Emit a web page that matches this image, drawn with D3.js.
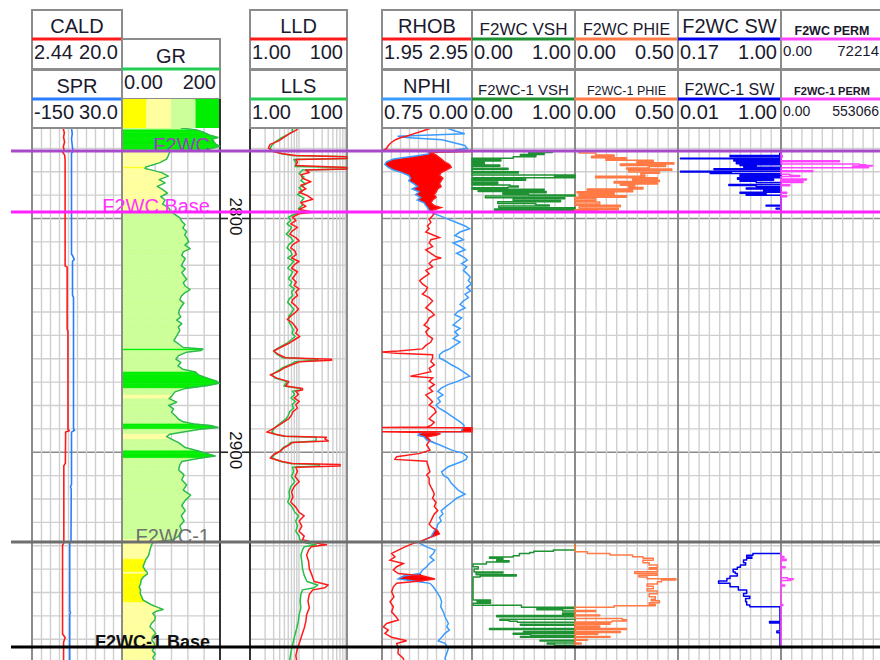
<!DOCTYPE html>
<html>
<head>
<meta charset="utf-8">
<title>Well log – F2WC / F2WC-1</title>
<script src="https://cdn.jsdelivr.net/npm/d3@7/dist/d3.min.js"></script>
<style>
  html, body { margin: 0; padding: 0; background: #fff; }
  svg { display: block; font-family: Arial, "Liberation Sans", sans-serif; }
</style>
</head>
<body>
<svg id="chart" width="880" height="660"></svg>
<script>
// ---------------- header labels (curve names and scale ends) ----------------
const curveTitles = ["CALD", "SPR", "GR", "LLD", "LLS", "RHOB", "NPHI",
  "F2WC VSH", "F2WC-1 VSH", "F2WC PHIE", "F2WC-1 PHIE", "F2WC SW", "F2WC-1 SW", "F2WC PERM", "F2WC-1 PERM"];
const scaleLo = ["2.44", "-150", "0.00", "1.00", "1.00", "1.95", "0.75",
  "0.00", "0.00", "0.00", "0.00", "0.17", "0.01", "0.00", "0.00"];
const scaleHi = ["20.0", "30.0", "200", "100", "100", "2.95", "0.00",
  "1.00", "1.00", "0.50", "0.50", "1.00", "1.00", "72214", "553066"];

// GR colour classes (upper bounds of the first three classes)
const grCutoffs = [50, 100, 150];

// formation tops
const topNames = ["F2WC", "F2WC Base", "F2WC-1", "F2WC-1 Base"];
const topDepths = [2771.3, 2797.4, 2938.6, 2983.5];

// depth annotations
const depthLabels = [2800, 2900];

// ---------------- log curves: [depth m, value] ----------------
const caldData = [[2761.5,8.5],[2763.5,8.75],[2765.5,8.6],[2767.5,8.8],[2769.5,8.55],[2771.0,8.7],[2772.0,8.45],[2773.0,8.8],[2775.0,8.9],[2820.5,8.9],[2821.0,9.3],[2847.5,9.3],[2848.5,9.45],[2890.5,9.46],[2891.0,9.7],[2891.6,9.0],[2905.0,8.95],[2906.0,8.65],[2939.0,8.65],[2940.0,8.4],[2978.0,8.4],[2979.5,8.9],[2981.5,8.6],[2989.1,8.6]];

const sprData = [[2761.5,-71],[2764.0,-69.5],[2766.0,-71],[2768.0,-70],[2770.0,-69],[2771.3,-67.5],[2772.3,-71],[2815.5,-71],[2816.0,-69],[2817.8,-65.5],[2818.5,-69],[2833.0,-69],[2834.0,-67],[2890.0,-67],[2890.8,-65],[2891.6,-71],[2914.0,-71],[2915.0,-73],[2916.0,-71.5],[2938.0,-72],[2939.5,-74.5],[2968.0,-74.5],[2968.8,-73],[2969.6,-74.5],[2989.1,-74.5]];

const grData = [[2761.5,120],[2762.3,152],[2763.3,166],[2764.5,178],[2765.6,196],[2766.3,184],[2767.5,188],[2768.5,192],[2769.3,199],[2770.1,186],[2770.9,172],[2771.5,98],[2773.3,94.5],[2774.8,91],[2776.3,77.5],[2777.4,60.5],[2778.3,48],[2778.8,47],[2779.3,57],[2780.6,81],[2782.1,94.5],[2783.6,76],[2785.0,88],[2786.5,72],[2788.0,84],[2789.4,92.5],[2790.9,79],[2792.3,88],[2794.1,83],[2795.5,94.5],[2797.0,99],[2798.5,108],[2799.9,118],[2801.4,122],[2802.8,128.5],[2804.3,124],[2805.8,132],[2807.2,128],[2808.7,133],[2810.1,136],[2811.6,128.5],[2813.1,139],[2814.5,125],[2816.0,122],[2817.4,129],[2818.9,125],[2820.4,121],[2821.8,129],[2823.3,122],[2824.7,126.5],[2826.2,132],[2827.7,125],[2829.1,129],[2830.6,139],[2832.0,128],[2833.5,121],[2835.0,118],[2836.4,126.5],[2837.9,121],[2839.3,117],[2840.8,115.5],[2842.3,120],[2843.7,111.5],[2845.2,122],[2846.6,115],[2848.1,118],[2849.6,114],[2851.0,110],[2852.5,106],[2853.9,115.5],[2855.4,125],[2856.1,165],[2856.7,161],[2857.4,132],[2858.9,115.5],[2860.4,110],[2861.8,120],[2863.3,114],[2864.7,124],[2865.9,150],[2867.1,156],[2868.5,174],[2869.7,192],[2870.7,198.5],[2871.7,175],[2872.9,130],[2874.4,108],[2875.8,103],[2877.3,96],[2878.8,111.5],[2880.2,95],[2881.7,105],[2883.1,101],[2884.6,109],[2886.1,115.5],[2887.2,125],[2888.1,147],[2888.8,181],[2889.6,196],[2890.4,159],[2891.6,125],[2892.5,98],[2893.5,91],[2894.7,102],[2896.1,115.5],[2898.2,129],[2899.6,154],[2900.8,174],[2901.8,190],[2902.8,158],[2904.2,122],[2905.6,118],[2907.7,115.5],[2909.9,126.5],[2912.0,122],[2914.2,132],[2916.4,125],[2918.6,140],[2920.8,129],[2923.0,122],[2925.2,129],[2927.4,121],[2929.6,126.5],[2931.8,118],[2934.0,122],[2936.1,115.5],[2937.6,105],[2938.6,64],[2940.0,60],[2942.1,57],[2944.5,54],[2946.0,49],[2947.5,46],[2949.2,43],[2950.6,47],[2951.5,51],[2952.3,52],[2953.5,44],[2954.9,39],[2956.5,38],[2957.8,35],[2959.2,38],[2960.6,37],[2962.0,40],[2963.5,43],[2964.5,52],[2965.6,61],[2966.5,72],[2967.5,84],[2968.2,70],[2969.2,63],[2970.6,68],[2972.0,67],[2973.5,60],[2974.9,57],[2976.3,64],[2977.7,69],[2979.2,62],[2980.6,61],[2982.0,66],[2983.4,67],[2985.0,62],[2986.5,68],[2988.0,63],[2989.1,66]];

const lldData = [[2761.5,10],[2762.5,8.8],[2764.0,6.4],[2765.5,5],[2767.0,3.9],[2768.5,2.6],[2770.0,2.4],[2771.5,2.9],[2772.5,4.6],[2773.3,8.8],[2773.8,100],[2774.6,100],[2775.0,8.8],[2776.0,9.5],[2777.5,8.8],[2778.4,100],[2779.0,100],[2779.5,14],[2780.5,16.7],[2781.5,11.2],[2783.0,12.1],[2784.5,18],[2786.0,11.2],[2787.5,14.2],[2789.0,10.3],[2790.5,15.5],[2792.0,19.7],[2793.5,11.2],[2795.0,14.2],[2796.3,10.3],[2797.5,19.7],[2798.2,10.3],[2799.6,7.5],[2801.1,8.8],[2802.5,6.9],[2804.0,9.5],[2805.5,7.5],[2806.9,6.6],[2808.4,8.8],[2809.8,10.3],[2811.3,7.7],[2812.8,6.9],[2814.2,8.5],[2815.7,9],[2817.1,7.2],[2818.6,10.3],[2820.1,8.1],[2821.5,7.2],[2823.0,9.5],[2824.4,8.5],[2825.9,7.5],[2827.4,9],[2828.8,8.1],[2830.3,10.3],[2831.7,8.8],[2833.2,9.5],[2834.7,7.7],[2836.1,7.2],[2837.6,8.8],[2839.0,10],[2840.5,8.5],[2842.0,6.9],[2843.4,5.85],[2844.9,7.5],[2846.3,8.5],[2847.8,9.5],[2849.3,8.8],[2850.7,10.6],[2852.2,8.1],[2853.6,6.35],[2855.4,4.24],[2856.9,3.07],[2858.3,3.8],[2859.8,5.4],[2860.4,48],[2860.9,48],[2861.5,10.3],[2862.7,7.5],[2864.2,5],[2865.6,3.9],[2867.1,2.61],[2868.5,3.6],[2870.0,6.35],[2871.9,5.4],[2872.9,12.1],[2873.6,12.1],[2874.1,8.8],[2875.5,10],[2877.0,8.1],[2878.5,10.3],[2879.9,8.8],[2881.4,9.5],[2882.8,7.7],[2884.3,7.2],[2885.8,6.35],[2887.2,5],[2888.7,3.9],[2890.4,2.83],[2891.6,2.22],[2892.5,3.33],[2893.4,5.4],[2893.8,37.7],[2894.5,35],[2895.4,41],[2896.0,7.5],[2897.2,6.35],[2898.3,5],[2899.8,4.24],[2901.2,3.07],[2902.7,2.61],[2904.2,4.59],[2905.0,7.5],[2905.5,72],[2906.1,72],[2906.6,8.8],[2908.4,9.5],[2910.6,8.5],[2912.8,10.3],[2915.0,8.1],[2917.2,7.2],[2919.3,7.7],[2921.5,6.9],[2923.7,8.8],[2925.9,10.3],[2927.4,13.1],[2929.6,10.3],[2931.8,11.7],[2934.0,10.3],[2936.1,13.1],[2937.6,12.1],[2939.1,23],[2939.8,37.7],[2940.7,18.2],[2942.0,16.2],[2944.2,14.7],[2947.1,16.2],[2950.0,16.7],[2952.9,19],[2955.5,21],[2957.0,41],[2958.2,35],[2959.1,19.7],[2961.0,16.7],[2963.9,15.7],[2966.8,16.7],[2969.7,14.7],[2972.6,14.2],[2975.5,13.1],[2978.5,11.7],[2981.4,10.6],[2984.3,9.5],[2987.2,8.8],[2989.1,9.1]];

const llsData = [[2761.5,7.5],[2763.0,7.5],[2764.5,5.8],[2766.0,4.2],[2767.5,3.3],[2769.0,2.8],[2770.5,2.6],[2771.5,3.1],[2772.5,4.6],[2773.3,7.5],[2773.8,100],[2774.6,100],[2775.0,8],[2776.5,9],[2778.0,8.5],[2778.4,100],[2779.0,100],[2779.5,12],[2781.0,10.3],[2782.5,13],[2784.0,11.2],[2785.5,14.2],[2787.0,10.3],[2788.5,12.1],[2790.0,9.5],[2791.5,13],[2793.0,11.2],[2794.5,12.1],[2796.0,10],[2797.5,12],[2798.5,8],[2799.6,6.2],[2801.1,6.9],[2802.5,5.8],[2804.0,7.2],[2805.5,6.5],[2806.9,5.6],[2808.4,7],[2809.8,7.8],[2811.3,6.4],[2812.8,5.8],[2814.2,6.9],[2815.7,7.4],[2817.1,6],[2818.6,8],[2820.1,6.8],[2821.5,6],[2823.0,7.6],[2824.4,7],[2825.9,6.2],[2827.4,7.3],[2828.8,6.6],[2830.3,8.2],[2831.7,7.2],[2833.2,7.6],[2834.7,6.4],[2836.1,6],[2837.6,7],[2839.0,8],[2840.5,7.2],[2842.0,6.3],[2843.4,6.3],[2844.9,6.5],[2846.3,7.2],[2847.8,7.8],[2849.3,7.4],[2850.7,8.5],[2852.2,7],[2853.6,5.8],[2855.4,4],[2856.9,3.07],[2858.3,3.6],[2859.8,4.8],[2860.4,25],[2860.9,25],[2861.5,8.5],[2862.7,6.8],[2864.2,4.6],[2865.6,3.6],[2867.1,2.83],[2868.5,3.3],[2870.0,5.8],[2871.9,5],[2872.9,11],[2873.6,11],[2874.1,7.5],[2875.5,8.3],[2877.0,7],[2878.5,8.6],[2879.9,7.4],[2881.4,7.9],[2882.8,6.6],[2884.3,6.2],[2885.8,5.6],[2887.2,4.6],[2888.7,3.7],[2890.4,3.07],[2891.6,2.8],[2892.5,3.3],[2893.4,5],[2893.8,23],[2895.4,23],[2896.0,7],[2897.2,6],[2898.3,4.8],[2899.8,4.1],[2901.2,3.2],[2902.7,2.83],[2904.2,4.3],[2905.0,6.8],[2905.5,27],[2906.1,27],[2906.6,7.5],[2908.4,7.9],[2910.6,7.2],[2912.8,8.4],[2915.0,6.9],[2917.2,6.4],[2919.3,6.6],[2921.5,6],[2923.7,7.4],[2925.9,8.4],[2927.4,10],[2929.6,8.8],[2931.8,9.5],[2934.0,8.8],[2936.1,10.3],[2937.6,10.6],[2939.1,14.2],[2939.8,23],[2940.7,13],[2942.0,12.1],[2944.2,11.2],[2947.1,11.7],[2950.0,12.1],[2952.9,13.1],[2955.5,15],[2957.0,25],[2958.2,21],[2959.1,12.1],[2961.0,11.2],[2963.9,10.8],[2966.8,11.2],[2969.7,10.3],[2972.6,9.9],[2975.5,9.2],[2978.5,8.4],[2981.4,7.8],[2984.3,7.2],[2987.2,6.8],[2989.1,6.6]];

// density / neutron share one depth column
const dnDepth = [2761.5,2762.8,2764.0,2765.0,2765.6,2766.5,2767.8,2769.0,2770.2,2770.9,2771.1,2771.6,2771.9,2772.6,2773.6,2774.8,2776.0,2777.1,2778.3,2779.5,2780.6,2781.8,2783.0,2784.1,2785.3,2786.5,2787.6,2788.8,2790.0,2791.2,2792.3,2793.5,2794.7,2795.5,2796.7,2797.9,2799.0,2800.5,2801.9,2803.4,2804.6,2806.0,2807.5,2808.4,2809.3,2810.7,2812.2,2813.6,2815.1,2816.6,2817.1,2818.0,2819.5,2820.9,2822.4,2823.9,2825.3,2826.8,2828.2,2829.7,2831.2,2832.6,2834.1,2835.5,2837.0,2838.5,2839.9,2841.4,2842.8,2844.3,2845.8,2847.2,2848.7,2850.1,2851.6,2853.1,2854.5,2856.0,2856.9,2857.3,2857.9,2858.5,2859.9,2861.4,2862.8,2864.3,2865.8,2866.9,2867.7,2868.4,2869.8,2871.3,2872.8,2874.2,2875.7,2877.1,2878.6,2880.1,2881.5,2883.0,2884.4,2885.9,2887.4,2888.8,2889.4,2889.6,2889.7,2891.4,2891.5,2891.8,2892.3,2893.0,2893.6,2895.0,2897.1,2899.3,2900.7,2902.1,2903.3,2904.1,2906.4,2908.6,2910.0,2911.3,2913.5,2915.0,2916.4,2918.2,2919.9,2921.7,2923.4,2925.2,2926.6,2928.1,2929.6,2931.0,2932.5,2933.9,2935.1,2936.3,2937.4,2938.6,2939.2,2940.7,2942.1,2943.5,2945.0,2946.4,2947.8,2949.2,2950.6,2952.1,2953.2,2954.4,2955.3,2956.3,2957.8,2959.9,2962.1,2964.2,2966.3,2968.5,2970.6,2972.0,2973.5,2974.9,2976.3,2977.7,2979.4,2980.9,2982.0,2984.1,2986.3,2988.4,2989.1];
const rhobValues = [2.50,2.40,2.30,2.22,2.16,2.10,2.05,2.02,2.00,1.97,2.95,2.95,2.48,2.53,2.57,2.61,2.645,2.70,2.72,2.664,2.607,2.588,2.626,2.607,2.588,2.607,2.569,2.55,2.531,2.55,2.512,2.493,2.531,2.607,2.512,2.531,2.512,2.474,2.493,2.455,2.474,2.437,2.531,2.588,2.493,2.474,2.512,2.437,2.493,2.55,2.607,2.512,2.474,2.512,2.437,2.474,2.418,2.368,2.399,2.455,2.437,2.399,2.474,2.512,2.474,2.437,2.493,2.531,2.474,2.455,2.418,2.474,2.437,2.455,2.512,2.493,2.437,2.399,2.133,1.95,2.114,2.512,2.512,2.493,2.531,2.474,2.493,2.36,2.266,2.512,2.474,2.531,2.474,2.512,2.437,2.474,2.512,2.474,2.531,2.55,2.512,2.474,2.531,2.493,2.45,1.95,2.95,2.95,1.95,2.42,2.60,2.55,2.45,2.483,2.447,2.483,2.372,2.113,2.094,2.447,2.465,2.483,2.447,2.474,2.474,2.493,2.512,2.531,2.512,2.55,2.531,2.569,2.531,2.512,2.493,2.474,2.512,2.569,2.588,2.512,2.437,2.36,2.298,2.206,2.131,2.057,2.094,2.039,2.187,2.113,2.076,2.131,2.409,2.539,2.372,2.113,2.076,2.057,2.083,2.039,2.076,2.057,2.106,2.131,2.002,1.965,2.02,1.983,2.057,2.224,2.113,2.131,2.128,2.187,2.19];
const nphiValues = [0.21,0.14,0.06,0.62,0.55,0.25,0.15,0.06,0.04,0.14,0.14,0.12,0.36,0.36,0.485,0.655,0.712,0.726,0.698,0.655,0.584,0.527,0.513,0.527,0.485,0.456,0.499,0.442,0.47,0.428,0.456,0.399,0.385,0.371,0.357,0.328,0.271,0.200,0.129,0.058,0.02,0.10,0.143,0.10,0.072,0.157,0.10,0.058,0.129,0.072,0.058,0.04,0.086,0.044,0.072,0.04,0.015,0.03,0.005,0.044,0.012,0.058,0.03,0.072,0.10,0.058,0.115,0.143,0.086,0.122,0.157,0.10,0.143,0.115,0.157,0.10,0.143,0.186,0.228,0.243,0.257,0.271,0.271,0.214,0.172,0.115,0.072,0.04,0.02,0.058,0.115,0.20,0.257,0.285,0.243,0.285,0.264,0.30,0.271,0.22,0.18,0.136,0.093,0.066,0.07,0.07,0.075,0.09,0.22,0.42,0.44,0.45,0.40,0.377,0.267,0.169,0.072,0.039,0.05,0.08,0.197,0.253,0.24,0.20,0.172,0.143,0.115,0.058,0.129,0.172,0.214,0.257,0.243,0.271,0.257,0.285,0.293,0.314,0.328,0.342,0.385,0.428,0.433,0.378,0.308,0.322,0.35,0.317,0.356,0.378,0.411,0.433,0.572,0.614,0.489,0.35,0.322,0.295,0.267,0.253,0.261,0.239,0.225,0.211,0.197,0.211,0.189,0.225,0.253,0.281,0.225,0.197,0.211,0.225,0.22];

// ---------------- interpretation results (stepped) ----------------
const vshF2wc = [[2771.6,0.78],[2772.0,0.55],[2772.4,0.70],[2772.8,0.47],[2773.3,0.62],[2773.8,0.40],[2774.4,0.0],[2775.0,0.28],[2775.6,0.0],[2776.3,0.12],[2776.9,0.0],[2777.3,0.27],[2777.9,0.0],[2778.7,0.35],[2779.3,0.0],[2780.2,0.45],[2780.8,0.0],[2781.6,1.0],[2782.0,0.80],[2782.4,1.0],[2782.8,0.0],[2783.3,0.52],[2783.8,0.0],[2784.6,0.25],[2785.2,0.0],[2785.9,0.37],[2786.3,0.45],[2786.7,0.35],[2787.1,0.0],[2787.7,0.70],[2788.2,0.06],[2788.7,0.72],[2789.2,0.30],[2789.8,0.55],[2790.2,1.0],[2790.6,0.13],[2791.3,0.90],[2791.8,0.40],[2792.5,0.86],[2793.0,0.25],[2793.8,0.62],[2794.4,0.75],[2794.9,0.26],[2795.6,1.0],[2796.2,0.22],[2796.8,1.0],[2797.4,1.0]];
const phieF2wc = [[2771.6,0.02],[2772.2,0.10],[2773.0,0.19],[2773.6,0.08],[2774.2,0.25],[2774.8,0.15],[2775.3,0.38],[2775.9,0.30],[2776.4,0.48],[2776.9,0.22],[2777.5,0.44],[2778.0,0.36],[2778.6,0.25],[2779.0,0.47],[2779.6,0.26],[2780.3,0.41],[2780.9,0.32],[2781.6,0.34],[2782.1,0.10],[2782.8,0.40],[2783.3,0.28],[2783.9,0.41],[2784.4,0.19],[2785.0,0.40],[2785.5,0.22],[2786.0,0.29],[2786.5,0.26],[2787.0,0.33],[2787.6,0.06],[2788.2,0.28],[2788.8,0.01],[2789.3,0.19],[2789.9,0.02],[2790.5,0.25],[2791.1,0.0],[2791.8,0.10],[2792.5,0.0],[2793.2,0.12],[2794.0,0.0],[2794.6,0.22],[2795.2,0.02],[2795.9,0.21],[2796.5,0.0],[2797.0,0.11],[2797.4,0.0]];
const swF2wc = [[2771.6,1.0],[2772.3,0.99],[2773.3,0.59],[2773.7,0.99],[2774.4,0.19],[2774.7,1.0],[2775.2,0.62],[2775.6,1.0],[2776.3,0.64],[2776.8,1.0],[2777.2,0.67],[2777.5,0.80],[2777.9,0.70],[2778.3,1.0],[2778.9,0.46],[2779.3,1.0],[2780.0,0.19],[2780.3,0.60],[2780.6,0.43],[2781.0,1.0],[2781.6,0.67],[2782.2,1.0],[2782.8,0.65],[2783.4,0.94],[2783.9,0.67],[2784.3,0.80],[2784.8,1.0],[2785.7,0.58],[2786.1,0.80],[2786.5,1.0],[2787.2,0.72],[2787.6,1.0],[2788.1,0.86],[2788.6,1.0],[2789.0,0.67],[2789.4,0.88],[2789.8,0.72],[2790.3,1.0],[2794.5,0.88],[2794.9,1.0],[2795.8,0.96],[2796.2,1.0],[2797.4,1.0]];
const permF2wc = [[2771.6,0],[2773.3,900],[2774.0,0],[2775.5,41400],[2775.9,0],[2776.9,55400],[2777.2,60000],[2777.5,64700],[2777.8,50700],[2778.2,62000],[2778.5,0],[2779.8,22600],[2780.1,0],[2781.3,6300],[2781.8,13300],[2782.3,0],[2783.3,18000],[2783.7,0],[2784.4,15600],[2784.8,0],[2785.8,6300],[2786.2,0],[2789.0,4000],[2789.4,0],[2790.5,4000],[2790.9,0],[2797.4,0]];

const vshF2wc1 = [[2938.8,1.0],[2941.7,1.0],[2942.0,0.79],[2942.6,0.60],[2943.1,0.56],[2943.5,0.46],[2944.5,0.40],[2945.0,0.17],[2945.6,0.30],[2946.2,0.24],[2946.6,0.36],[2947.2,0.14],[2948.0,0.01],[2949.2,0.06],[2950.2,0.02],[2951.4,0.30],[2951.9,0.04],[2952.6,0.43],[2953.2,0.08],[2953.6,0.01],[2963.4,0.18],[2963.9,0.05],[2964.3,0.18],[2964.8,0.01],[2965.7,0.48],[2966.5,1.0],[2967.1,0.63],[2967.6,0.88],[2968.1,1.0],[2969.0,0.88],[2969.5,1.0],[2970.1,0.24],[2970.6,1.0],[2971.7,0.27],[2972.1,0.36],[2972.5,0.44],[2972.9,1.0],[2973.8,0.47],[2974.2,1.0],[2975.6,0.17],[2976.0,1.0],[2976.9,0.50],[2977.3,1.0],[2977.7,0.40],[2978.1,0.57],[2978.5,1.0],[2979.0,0.47],[2979.4,1.0],[2980.6,0.66],[2981.0,1.0],[2981.8,0.73],[2982.3,0.80],[2982.8,1.0],[2983.5,1.0]];
const phieF2wc1 = [[2938.8,0.0],[2942.8,0.06],[2943.5,0.17],[2944.2,0.28],[2944.9,0.33],[2945.6,0.38],[2946.4,0.33],[2947.5,0.36],[2948.5,0.40],[2949.6,0.36],[2950.3,0.40],[2951.3,0.29],[2952.1,0.40],[2952.8,0.31],[2953.6,0.35],[2954.3,0.49],[2954.9,0.42],[2955.6,0.40],[2956.6,0.35],[2957.5,0.38],[2958.6,0.35],[2959.6,0.40],[2960.8,0.36],[2962.0,0.39],[2963.1,0.37],[2963.8,0.41],[2964.6,0.36],[2965.4,0.39],[2965.9,0.19],[2966.5,0.0],[2967.9,0.10],[2968.4,0.0],[2969.8,0.12],[2970.2,0.0],[2971.3,0.23],[2971.9,0.25],[2972.4,0.18],[2972.8,0.0],[2973.4,0.17],[2973.8,0.0],[2974.6,0.12],[2975.0,0.0],[2975.6,0.25],[2976.0,0.0],[2976.9,0.22],[2977.3,0.0],[2977.7,0.11],[2978.1,0.0],[2979.0,0.17],[2979.4,0.0],[2980.3,0.06],[2980.6,0.0],[2981.8,0.03],[2982.3,0.0],[2983.5,0.0]];
const swF2wc1 = [[2943.4,0.99],[2943.5,0.73],[2944.3,0.67],[2945.0,0.72],[2945.6,0.67],[2946.3,0.64],[2947.5,0.66],[2948.5,0.61],[2949.4,0.58],[2950.3,0.54],[2951.4,0.56],[2952.1,0.58],[2953.2,0.51],[2954.2,0.48],[2955.3,0.40],[2956.3,0.51],[2957.8,0.59],[2959.2,0.67],[2960.6,0.64],[2961.8,0.70],[2962.8,0.66],[2964.2,0.67],[2965.6,0.70],[2966.3,0.99],[2972.6,0.89],[2973.3,0.99],[2976.7,0.96],[2977.4,0.99],[2983.5,0.99]];
const permF2wc1 = [[2942.8,0],[2944.8,16000],[2945.3,0],[2946.0,28000],[2946.5,0],[2949.2,22000],[2949.6,0],[2953.9,35000],[2954.3,66000],[2954.7,52000],[2955.1,0],[2957.0,20000],[2957.4,0],[2965.4,10000],[2965.8,0],[2983.5,0]];

// ---------------- layout ----------------
const svg = d3.select("#chart");
const plotTop = 128, plotBottom = 660;
const y = d3.scaleLinear().domain([2761.5, 2989.1]).range([plotTop, plotBottom]);

const track = {
  t1: [32, 122], gr: [122, 220], dep: [220, 250], res: [250, 347],
  dn: [382, 472], vsh: [472, 575], phie: [575, 678], sw: [678, 781], perm: [781, 883]
};
const num = i => [parseFloat(scaleLo[i]), parseFloat(scaleHi[i])];

const xCald = d3.scaleLinear().domain(num(0)).range(track.t1);
const xSpr = d3.scaleLinear().domain(num(1)).range(track.t1);
const xGr = d3.scaleLinear().domain(num(2)).range(track.gr);
const xLld = d3.scaleLog().domain(num(3)).range(track.res).clamp(true);
const xLls = d3.scaleLog().domain(num(4)).range(track.res).clamp(true);
const xRhob = d3.scaleLinear().domain(num(5)).range(track.dn);
const xNphi = d3.scaleLinear().domain(num(6)).range(track.dn);
const xVsh1 = d3.scaleLinear().domain(num(7)).range(track.vsh);
const xVsh2 = d3.scaleLinear().domain(num(8)).range(track.vsh);
const xPhie1 = d3.scaleLinear().domain(num(9)).range(track.phie);
const xPhie2 = d3.scaleLinear().domain(num(10)).range(track.phie);
const xSw1 = d3.scaleLinear().domain(num(11)).range(track.sw);
const xSw2 = d3.scaleLinear().domain(num(12)).range(track.sw);
const xPerm1 = d3.scaleLinear().domain(num(13)).range(track.perm);
const xPerm2 = d3.scaleLinear().domain(num(14)).range(track.perm);

const grColor = d3.scaleThreshold().domain(grCutoffs)
  .range(["#ffff00", "#ffffa0", "#ccff99", "#00ee00"]);

const gGrid = svg.append("g");
const gFill = svg.append("g");
const gBorder = svg.append("g");
const gCurve = svg.append("g");
const gTops = svg.append("g");
const gHead = svg.append("g");

// ---------------- grids ----------------
const gridDepths = d3.range(2770, 2990, 10);
const minor = "#cfcfcf", major = "#8a8a8a";

function drawGrid(x0, x1, scale, vals) {
  const g = gGrid.append("g");
  g.append("g").attr("transform", `translate(${x0},0)`)
    .call(d3.axisLeft(y).tickValues(gridDepths).tickSize(-(x1 - x0)).tickFormat(""))
    .call(s => s.select(".domain").remove())
    .call(s => s.selectAll(".tick line")
      .attr("stroke", d => d % 100 === 0 ? major : minor)
      .attr("stroke-width", d => d % 100 === 0 ? 1.6 : 1.4));
  g.append("g").attr("transform", `translate(0,${plotTop - 3})`)
    .call(d3.axisBottom(scale).tickValues(vals).tickSize(plotBottom - plotTop + 3).tickFormat(""))
    .call(s => s.select(".domain").remove())
    .call(s => s.selectAll(".tick line").attr("stroke", minor).attr("stroke-width", 1.4));
}
const tenths = (s, n) => { const [a, b] = s.domain(); return d3.range(1, n).map(i => a + (b - a) * i / n); };

drawGrid(...track.t1, xCald, tenths(xCald, 10));
drawGrid(...track.gr, xGr, tenths(xGr, 6));
drawGrid(...track.res, xLld, [2,3,4,5,6,7,8,9,10,20,30,40,50,60,70,80,90]);
drawGrid(...track.dn, xRhob, tenths(xRhob, 10));
drawGrid(...track.vsh, xVsh1, tenths(xVsh1, 10));
drawGrid(...track.phie, xPhie1, tenths(xPhie1, 10));
drawGrid(...track.sw, xSw2, tenths(xSw2, 10));
drawGrid(...track.perm, xPerm1, tenths(xPerm1, 10));

// ---------------- GR colour fill (left edge to curve, coloured by class) ----------------
const segArea = d3.area().y(d => y(d[0])).x0(track.gr[0]).x1(d => xGr(d[1]));
d3.pairs(grData).forEach(([a, b]) => {
  const c = grColor((a[1] + b[1]) / 2);
  gFill.append("path").datum([a, b])
    .attr("d", segArea)
    .attr("fill", c).attr("stroke", c).attr("stroke-width", 0.6);
});

// density-neutron crossover fill
const dnIdx = d3.range(dnDepth.length);
gFill.append("path").datum(dnIdx)
  .attr("d", d3.area()
    .y(i => y(dnDepth[i]))
    .x0(i => xNphi(nphiValues[i]))
    .x1(i => Math.max(xNphi(nphiValues[i]), xRhob(rhobValues[i]))))
  .attr("fill", "#ff0000");

// ---------------- track borders ----------------
const borders = [
  [track.t1[0], "#8c8c8c"], [track.t1[1], "#8c8c8c"], [track.gr[1], "#333"],
  [track.res[0], "#333"], [track.res[1], "#8c8c8c"], [track.dn[0], "#8c8c8c"],
  [track.vsh[0], "#8c8c8c"], [track.phie[0], "#8c8c8c"], [track.sw[0], "#8c8c8c"],
  [track.perm[0], "#8c8c8c"], [track.perm[1], "#8c8c8c"]
];
borders.forEach(([x, c]) => gBorder.append("line")
  .attr("x1", x).attr("x2", x).attr("y1", plotTop).attr("y2", plotBottom)
  .attr("stroke", c).attr("stroke-width", 2));

// depth column
const depthAxis = d3.axisRight(y).tickValues(depthLabels).tickSize(8).tickFormat(d3.format("d"));
gBorder.append("g").attr("transform", `translate(${track.dep[0]},0)`)
  .call(depthAxis)
  .call(s => s.select(".domain").remove())
  .call(s => s.selectAll(".tick line").attr("stroke", "#222").attr("stroke-width", 1.6))
  .call(s => s.selectAll(".tick text")
    .attr("x", 0).attr("dy", 0)
    .attr("transform", "translate(15,-2) rotate(90)")
    .attr("text-anchor", "middle").attr("dominant-baseline", "central")
    .attr("font-size", 17).attr("fill", "#111")
    .attr("font-family", "Arial, 'Liberation Sans', sans-serif"));
gBorder.append("g").attr("transform", `translate(${track.dep[1]},0)`)
  .call(d3.axisLeft(y).tickValues(depthLabels).tickSize(8).tickFormat(""))
  .call(s => s.select(".domain").remove())
  .call(s => s.selectAll(".tick line").attr("stroke", "#222").attr("stroke-width", 1.6));

// ---------------- curves ----------------
function curve(data, xs, color, width, stepped) {
  const line = d3.line().x(d => xs(d[1])).y(d => y(d[0]));
  if (stepped) line.curve(d3.curveStepBefore);
  gCurve.append("path").datum(data).attr("d", line)
    .attr("fill", "none").attr("stroke", color)
    .attr("stroke-width", width).attr("stroke-linejoin", "round");
}
curve(caldData, xCald, "#ff1a1a", 1.6);
curve(sprData, xSpr, "#2a7dff", 1.6);
curve(grData, xGr, "#2dbb4f", 1.5);
curve(llsData, xLls, "#22c046", 1.5);
curve(lldData, xLld, "#ff1a1a", 1.5);
gCurve.append("path").datum(dnIdx)
  .attr("d", d3.line().x(i => xNphi(nphiValues[i])).y(i => y(dnDepth[i])))
  .attr("fill", "none").attr("stroke", "#3a9cff").attr("stroke-width", 1.5);
gCurve.append("path").datum(dnIdx)
  .attr("d", d3.line().x(i => xRhob(rhobValues[i])).y(i => y(dnDepth[i])))
  .attr("fill", "none").attr("stroke", "#ff1a1a").attr("stroke-width", 1.5);

curve(vshF2wc, xVsh1, "#1e9232", 1.5, true);
curve(phieF2wc, xPhie1, "#ff7a45", 1.5, true);
curve(swF2wc, xSw1, "#0000ee", 1.5, true);
curve(permF2wc, xPerm1, "#ff44ff", 1.5, true);
curve(vshF2wc1, xVsh2, "#1e9232", 1.5, true);
curve(phieF2wc1, xPhie2, "#ff7a45", 1.5, true);
curve(swF2wc1, xSw2, "#0000ee", 1.5, true);
curve(permF2wc1, xPerm2, "#ff44ff", 1.5, true);

// ---------------- formation tops ----------------
const topColors = ["#a64ac9", "#ff22ff", "#6e6e6e", "#000000"];
const topTextColors = ["#9a3fc0", "#ff33ff", "#707070", "#111111"];
topNames.forEach((name, i) => {
  const yy = y(topDepths[i]);
  gTops.append("text").attr("x", 210).attr("y", yy + 1)
    .attr("text-anchor", "end").attr("font-size", i === 3 ? 18 : 20)
    .attr("font-weight", i === 3 ? "bold" : "normal")
    .attr("fill", topTextColors[i]).text(name);
  gTops.append("line").attr("x1", 11).attr("x2", 880).attr("y1", yy).attr("y2", yy)
    .attr("stroke", topColors[i]).attr("stroke-width", 3);
});

// ---------------- header ----------------
const rows = {
  0: { top: 10, line: 39, bottom: 69 },
  1: { top: 70, line: 99, bottom: 128 },
  g: { top: 39, line: 69, bottom: 99 }
};
const headerStyle = [
  { x: track.t1, row: 0, color: "#ff1a1a", ts: 20, vs: 20 },
  { x: track.t1, row: 1, color: "#2a7dff", ts: 20, vs: 20 },
  { x: track.gr, row: "g", color: "#22cc55", ts: 20, vs: 20 },
  { x: track.res, row: 0, color: "#ff1a1a", ts: 20, vs: 20 },
  { x: track.res, row: 1, color: "#22cc55", ts: 20, vs: 20 },
  { x: track.dn, row: 0, color: "#ff1a1a", ts: 20, vs: 20 },
  { x: track.dn, row: 1, color: "#3a9cff", ts: 20, vs: 20 },
  { x: track.vsh, row: 0, color: "#1e9232", ts: 17, vs: 20 },
  { x: track.vsh, row: 1, color: "#1e9232", ts: 15, vs: 20 },
  { x: track.phie, row: 0, color: "#ff7a45", ts: 16, vs: 20 },
  { x: track.phie, row: 1, color: "#ff7a45", ts: 12.5, vs: 20 },
  { x: track.sw, row: 0, color: "#0000ee", ts: 20, vs: 20 },
  { x: track.sw, row: 1, color: "#0000ee", ts: 16, vs: 20 },
  { x: track.perm, row: 0, color: "#ff44ff", ts: 12.5, vs: 15, bold: true },
  { x: track.perm, row: 1, color: "#ff44ff", ts: 11, vs: 14, bold: true }
];
curveTitles.forEach((title, i) => {
  const st = headerStyle[i], r = rows[st.row];
  const [x0, x1] = st.x;
  gHead.append("rect").attr("x", x0).attr("y", r.top)
    .attr("width", x1 - x0).attr("height", r.bottom - r.top)
    .attr("fill", "#fff").attr("stroke", "#8c8c8c").attr("stroke-width", 2);
  gHead.append("text").attr("x", (x0 + x1) / 2).attr("y", r.line - (st.ts >= 18 ? 6 : 4))
    .attr("text-anchor", "middle").attr("font-size", st.ts)
    .attr("font-weight", st.bold ? "bold" : "normal")
    .attr("fill", "#1a1a2e").text(title);
  gHead.append("line").attr("x1", x0).attr("x2", x1).attr("y1", r.line).attr("y2", r.line)
    .attr("stroke", st.color).attr("stroke-width", 3);
  const vy = r.line + (st.vs >= 18 ? 20 : 17);
  gHead.append("text").attr("x", x0 + 2).attr("y", vy)
    .attr("font-size", st.vs).attr("fill", "#1a1a2e").text(scaleLo[i]);
  gHead.append("text").attr("x", x1 - 4).attr("y", vy)
    .attr("text-anchor", "end").attr("font-size", st.vs).attr("fill", "#1a1a2e").text(scaleHi[i]);
});

// GR colour legend bar under the GR scale
const barScale = d3.scaleLinear().domain([0, 4]).range(track.gr);
grColor.range().forEach((c, k) => {
  gHead.append("rect").attr("x", barScale(k)).attr("y", rows[1].line)
    .attr("width", barScale(k + 1) - barScale(k)).attr("height", plotTop - rows[1].line)
    .attr("fill", c);
});
gHead.append("line").attr("x1", track.gr[0]).attr("x2", track.gr[0])
  .attr("y1", rows[1].line).attr("y2", plotTop).attr("stroke", "#8c8c8c").attr("stroke-width", 2);
gHead.append("line").attr("x1", track.gr[1]).attr("x2", track.gr[1])
  .attr("y1", rows[1].line).attr("y2", plotTop).attr("stroke", "#333").attr("stroke-width", 2);
</script>
</body>
</html>
